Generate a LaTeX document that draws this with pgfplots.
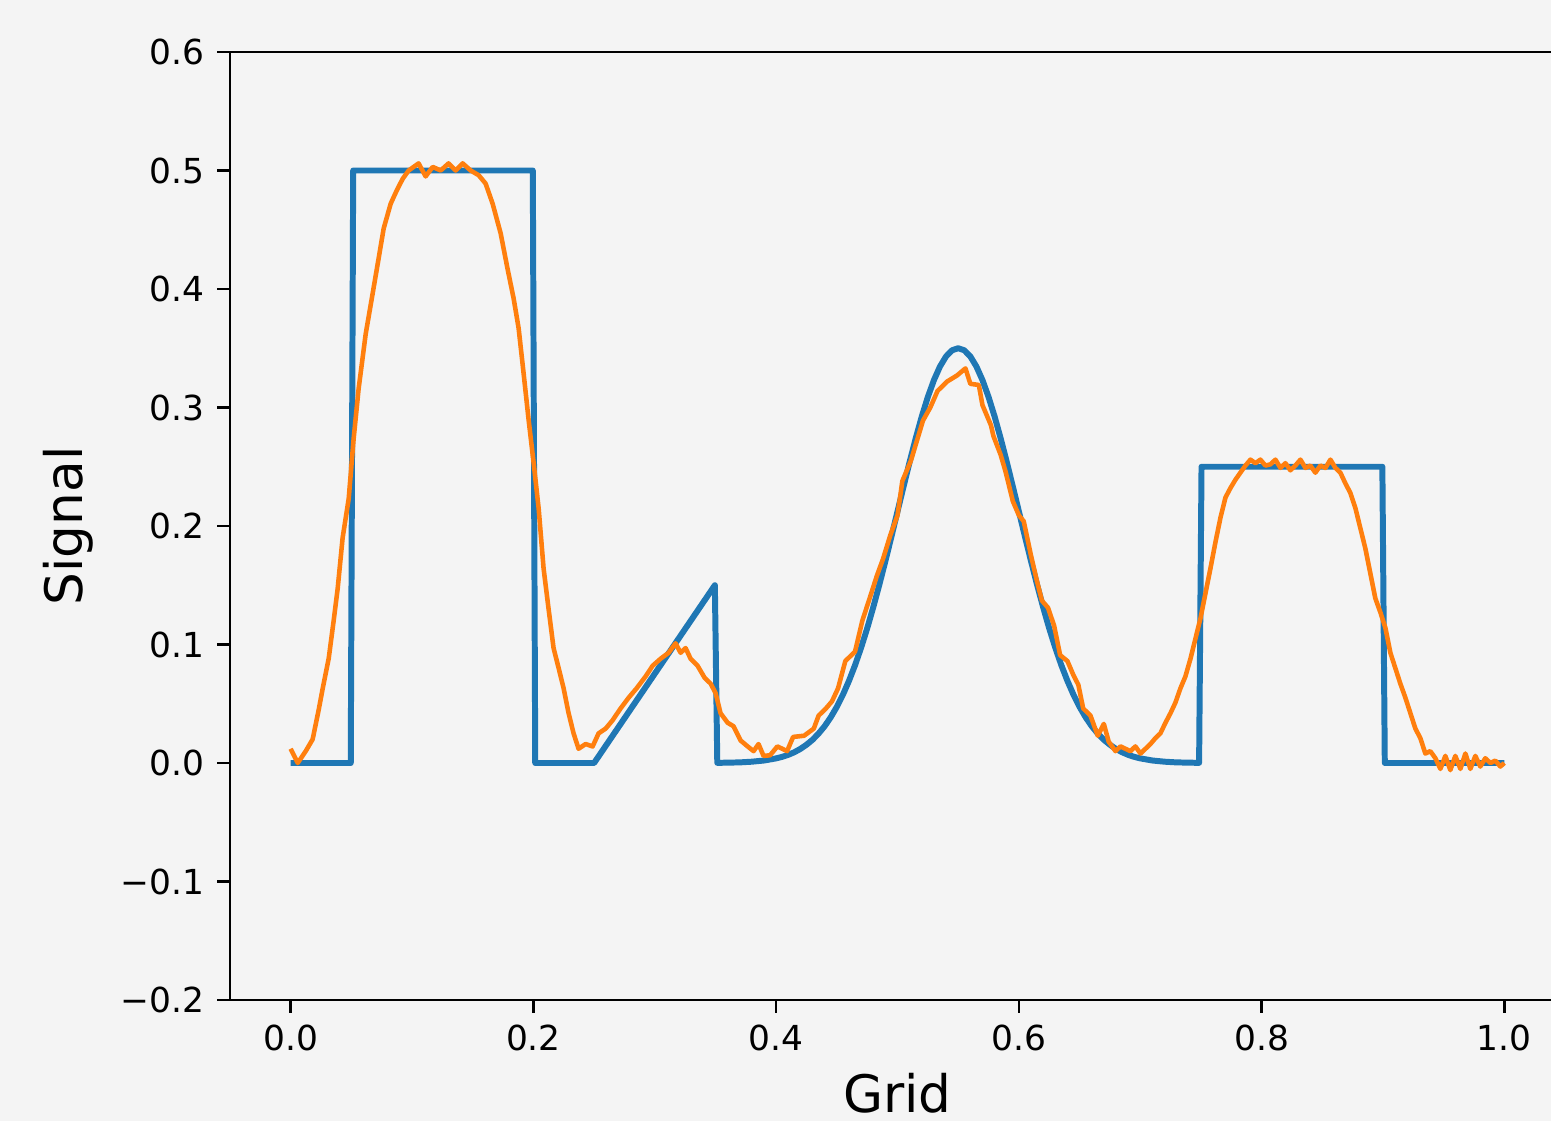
\documentclass[border=0pt]{standalone}
\usepackage{pgfplots}
\pgfplotsset{compat=1.18}
\usepackage{fontspec}
\setmainfont{DejaVu Sans}
\definecolor{bg}{HTML}{F4F4F4}
\definecolor{mplblue}{HTML}{1F77B4}
\definecolor{mplorange}{HTML}{FF7F0E}

\begin{document}
\begin{tikzpicture}
\fill[bg] (-2.3cm,-1.21cm) rectangle (13.21cm,10.0cm);
\begin{axis}[
    at={(0,0)}, anchor=south west,
    scale only axis,
    width=13.35cm, height=9.48cm,
    xmin=-0.05, xmax=1.05,
    ymin=-0.2, ymax=0.6,
    axis background/.style={fill=bg},
    axis line style={line width=0.7pt},
    tick align=outside,
    xtick pos=lower, ytick pos=left,
    major tick length=1.3mm,
    every tick/.style={black, line width=0.7pt},
    xtick={0,0.2,0.4,0.6,0.8,1.0},
    xticklabels={0.0,0.2,0.4,0.6,0.8,1.0},
    ytick={-0.2,-0.1,0,0.1,0.2,0.3,0.4,0.5,0.6},
    yticklabels={−0.2,−0.1,0.0,0.1,0.2,0.3,0.4,0.5,0.6},
    tick label style={font=\fontsize{9.8}{11}\selectfont},
    xlabel={Grid}, ylabel={Signal},
    label style={font=\fontsize{14.7}{17}\selectfont},
    xlabel style={at={(axis description cs:0.5,-0.098)}, anchor=center},
    ylabel style={at={(axis description cs:-0.1213,0.5)}, anchor=center, rotate=0},
    clip=true,
]
\addplot[mplblue, line width=1.7pt, line join=round] coordinates {
(0,0) (0.0495,0) (0.0515,0.5) (0.1995,0.5) (0.2015,0) (0.25,0)
(0.3495,0.15) (0.3515,0.0001)
(0.36,0.0003) (0.37,0.0005) (0.38,0.0011) (0.39,0.0021) (0.40,0.0039)
(0.405,0.0052) (0.41,0.0069) (0.415,0.0091) (0.42,0.0119) (0.425,0.0154)
(0.43,0.0196) (0.435,0.0249) (0.44,0.0311) (0.445,0.0386) (0.45,0.0474)
(0.455,0.0576) (0.46,0.0693) (0.465,0.0825) (0.47,0.0973) (0.475,0.1136)
(0.48,0.1314) (0.485,0.1504) (0.49,0.1704) (0.495,0.1911) (0.50,0.2123)
(0.505,0.2334) (0.51,0.2541) (0.515,0.2739) (0.52,0.2924) (0.525,0.3089)
(0.53,0.3231) (0.535,0.3346) (0.54,0.3431) (0.545,0.3483) (0.55,0.35)
(0.555,0.3483) (0.56,0.3431) (0.565,0.3346) (0.57,0.3231) (0.575,0.3089)
(0.58,0.2924) (0.585,0.2739) (0.59,0.2541) (0.595,0.2334) (0.60,0.2123)
(0.605,0.1911) (0.61,0.1704) (0.615,0.1504) (0.62,0.1314) (0.625,0.1136)
(0.63,0.0973) (0.635,0.0825) (0.64,0.0693) (0.645,0.0576) (0.65,0.0474)
(0.655,0.0386) (0.66,0.0311) (0.665,0.0249) (0.67,0.0196) (0.675,0.0154)
(0.68,0.0119) (0.685,0.0091) (0.69,0.0069) (0.695,0.0052) (0.70,0.0039)
(0.71,0.0021) (0.72,0.0011) (0.73,0.0005) (0.74,0.0003) (0.7485,0.0001)
(0.7505,0.25) (0.8995,0.25) (0.9015,0) (1.0,0)
};
\addplot[mplorange, line width=1.3pt, line join=round] coordinates {
(0,0.012) (0.0058,0.0) (0.0124,0.010) (0.0181,0.020) (0.0231,0.045)
(0.0264,0.063) (0.0313,0.088) (0.0354,0.120) (0.0387,0.147) (0.0428,0.190)
(0.0478,0.223) (0.0519,0.274) (0.0560,0.316) (0.0618,0.362) (0.0675,0.396)
(0.0725,0.426) (0.0766,0.451) (0.0824,0.472) (0.0873,0.483) (0.0923,0.493)
(0.0972,0.500) (0.1054,0.506) (0.1112,0.495) (0.1170,0.503) (0.1236,0.500)
(0.1301,0.506) (0.1359,0.500) (0.1417,0.506) (0.1483,0.500) (0.1549,0.496)
(0.1606,0.489) (0.1664,0.472) (0.1730,0.447) (0.1787,0.417) (0.1837,0.392)
(0.1878,0.367) (0.1919,0.329) (0.1960,0.290) (0.2002,0.253) (0.2043,0.215)
(0.2084,0.164) (0.2125,0.130) (0.2166,0.097) (0.2208,0.080) (0.2249,0.063)
(0.2290,0.042) (0.2331,0.025) (0.2372,0.012) (0.2430,0.016) (0.2488,0.014)
(0.2537,0.025) (0.2595,0.029) (0.2652,0.036) (0.2718,0.046) (0.2784,0.055)
(0.2850,0.063) (0.2924,0.073) (0.2982,0.082) (0.3048,0.088) (0.3114,0.093)
(0.3171,0.101) (0.3213,0.093) (0.3254,0.097) (0.3295,0.088) (0.3353,0.082)
(0.3410,0.072) (0.3460,0.067) (0.3501,0.059) (0.3542,0.042) (0.3600,0.034)
(0.3649,0.031) (0.3707,0.019) (0.3765,0.014) (0.3814,0.010) (0.3855,0.016)
(0.3896,0.006) (0.395,0.0065) (0.401,0.014) (0.409,0.010) (0.414,0.022)
(0.423,0.023) (0.431,0.029) (0.435,0.040) (0.441,0.046) (0.446,0.052)
(0.451,0.063) (0.457,0.086) (0.465,0.094) (0.471,0.120) (0.478,0.142)
(0.483,0.158) (0.488,0.172) (0.494,0.192) (0.500,0.209) (0.504,0.238)
(0.511,0.255) (0.516,0.272) (0.521,0.289) (0.527,0.300) (0.533,0.314)
(0.541,0.322) (0.549,0.327) (0.556,0.333) (0.560,0.320) (0.567,0.319)
(0.570,0.302) (0.577,0.285) (0.579,0.276) (0.585,0.260) (0.589,0.246)
(0.595,0.221) (0.600,0.209) (0.604,0.204) (0.610,0.175) (0.615,0.153)
(0.619,0.137) (0.624,0.131) (0.629,0.116) (0.634,0.091) (0.640,0.086)
(0.645,0.074) (0.649,0.066) (0.653,0.046) (0.659,0.040) (0.665,0.023)
(0.670,0.033) (0.674,0.018) (0.6796,0.010) (0.6837,0.014)
(0.6878,0.012) (0.6919,0.010) (0.6960,0.014) (0.7002,0.008) (0.7043,0.012)
(0.7084,0.016) (0.7125,0.021) (0.7166,0.025) (0.7208,0.034) (0.7249,0.042)
(0.7290,0.051) (0.7331,0.063) (0.7372,0.073) (0.7414,0.088) (0.7455,0.105)
(0.7496,0.122) (0.7537,0.143) (0.7578,0.164) (0.7619,0.186) (0.7661,0.207)
(0.7702,0.224) (0.7743,0.232) (0.7784,0.239) (0.7825,0.245) (0.7867,0.251)
(0.7908,0.256) (0.7949,0.253) (0.7990,0.256) (0.8031,0.251) (0.8072,0.252)
(0.8114,0.256) (0.8155,0.249) (0.8196,0.253) (0.8237,0.247) (0.8278,0.251)
(0.8320,0.256) (0.8361,0.249) (0.8402,0.251) (0.8443,0.245) (0.8484,0.251)
(0.8526,0.249) (0.8567,0.256) (0.8608,0.249) (0.8649,0.245) (0.8690,0.236)
(0.8731,0.228) (0.8773,0.215) (0.8814,0.198) (0.8855,0.181) (0.8896,0.160)
(0.8937,0.139) (0.8979,0.127) (0.9020,0.114) (0.9061,0.093) (0.9102,0.080)
(0.9143,0.067) (0.9185,0.055) (0.9226,0.042) (0.9267,0.029) (0.9308,0.021)
(0.9349,0.008) (0.9390,0.010) (0.9432,0.004) (0.9473,-0.005) (0.9514,0.006)
(0.9555,-0.006) (0.9596,0.006) (0.9638,-0.005) (0.9679,0.008) (0.9720,-0.005)
(0.9761,0.006) (0.9802,-0.003) (0.9843,0.004) (0.9885,0.0) (0.9926,0.002)
(0.9967,-0.003) (1.0,0.0)
};
\end{axis}
\pgfresetboundingbox
\path[use as bounding box] (-2.3cm,-1.21cm) rectangle (13.21cm,10.0cm);
\end{tikzpicture}
\end{document}
